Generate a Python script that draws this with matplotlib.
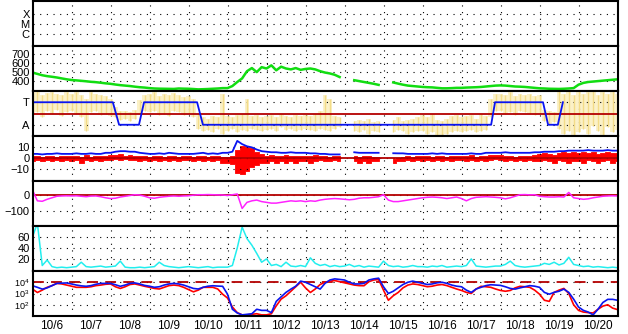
import matplotlib.pyplot as plt
import numpy as np

plt.rcParams['font.family'] = ['Liberation Sans', 'DejaVu Sans']
nan = np.nan

# time axis: days after 10/6 00:00, one sample every 3 hours
day_labels = ['10/6', '10/7', '10/8', '10/9', '10/10', '10/11', '10/12', '10/13',
              '10/14', '10/15', '10/16', '10/17', '10/18', '10/19', '10/20']
t = np.arange(121) * 0.125

# solar wind speed (km/s)
speed = [495, 480, 465, 455, 448, 440, 430, 420,
         412, 408, 403, 398, 392, 388, 382, 375,
         370, 362, 355, 350, 345, 338, 332, 328,
         322, 318, 316, 315, 314, 313, 318, 316,
         315, 312, 308, 310, 312, 315, 318, 322,
         322, 345, 390, 430, 510, 545, 500, 555,
         540, 575, 520, 560, 540, 530, 545, 525,
         535, 540, 530, 510, 495, 485, 470, 445,
         nan, nan, 410, 400, 390, 380, 370, 358,
         nan, nan, 385, 372, 360, 350, 345, 340,
         335, 332, 330, 325, 320, 320, 322, 325,
         325, 328, 330, 332, 335, 340, 345, 350,
         352, 350, 345, 340, 338, 335, 330, 325,
         320, 318, 315, 314, 313, 315, 318, 322,
         360, 380, 390, 395, 400, 405, 410, 415, 420]

# IMF sector (T = 270, A = 90 deg) and phi angle spread
sector_t = [0, 2.06, 2.22, 2.73, 2.86, 4.22, 4.37, 11.76, 11.86, 13.09, 13.22, 13.47, 13.60]
sector_v = [270, 270, 90, 90, 270, 270, 90, 90, 270, 270, 90, 90, 270]
phi_lo = [170, 190, 150, 200, 180, 210, 160, 190,
          200, 180, 150, 40, 190, 200, 170, 180,
          160, 150, 130, 140, 120, 140, 180, 200,
          190, 200, 170, 180, 160, 200, 190, 170,
          180, 150, 60, 40, 50, 30, 60, 20,
          40, 60, 30, 50, 40, 60, 50, 40,
          50, 60, 40, 70, 50, 60, 40, 50,
          60, 50, 40, 60, 50, 40, 60, 70,
          nan, nan, 40, 30, 50, 20, 40, 30,
          nan, nan, 30, 50, 40, 20, 30, 40,
          40, 20, 30, 10, 0, 20, 30, 40,
          30, 40, 50, 30, 40, 50, 150, 200,
          200, 180, 190, 170, 200, 190, 180, 170,
          180, 120, 100, 110, 60, 20, 40, 0,
          30, 60, 20, 80, 40, 10, 70, 30, 50]
phi_hi = [350, 360, 330, 345, 355, 340, 330, 350,
          340, 355, 330, 300, 350, 340, 330, 320,
          300, 230, 200, 200, 190, 210, 290, 330,
          340, 350, 320, 340, 330, 345, 330, 310,
          320, 300, 180, 150, 140, 160, 150, 340,
          160, 150, 170, 180, 300, 160, 170, 150,
          160, 170, 150, 180, 160, 150, 170, 160,
          170, 160, 180, 200, 330, 300, 160, 150,
          nan, nan, 120, 130, 120, 140, 110, 120,
          nan, nan, 130, 150, 120, 130, 140, 150,
          170, 150, 180, 130, 120, 140, 160, 170,
          150, 160, 170, 140, 180, 160, 300, 340,
          340, 330, 350, 320, 340, 330, 340, 320,
          330, 210, 200, 190, 360, 340, 360, 330,
          360, 340, 350, 360, 330, 350, 340, 360, 340]

# IMF Bt and Bz range (nT)
bt = [4, 4, 3.5, 4, 4, 4.5, 4, 4,
      4, 4.5, 4, 4, 4.5, 4, 4, 5,
      5, 6, 6.5, 6.5, 6, 6, 5, 4.5,
      4, 4, 4.5, 4, 5, 4.5, 4, 4,
      4, 4, 4.5, 5, 4, 4.5, 4, 5,
      5, 6, 16, 13, 11, 10, 8, 6.5,
      6, 5.5, 5.5, 5, 5, 5.5, 5, 5,
      5, 4.5, 4.5, 4, 4, 3.5, 3.5, 3.5,
      nan, nan, 5.5, 5, 5, 5, 5, 5,
      nan, nan, 4.6, 4.5, 4.5, 4, 4, 4,
      4, 4, 4.5, 4, 4.5, 4, 4, 4,
      4, 4, 4.5, 4, 4, 5, 5, 5,
      5, 5.5, 5, 5, 5, 5, 5, 5.5,
      5.5, 6, 6, 6, 6.5, 6.5, 7, 7,
      7, 7, 7.5, 7, 7, 7, 7.5, 7, 7]
bz_lo = [-3, -2, -3, -2, -3, -2, -3, -2,
         -3, -2, -4, -2, -3, -2, -3, -2,
         -2, -1, -2, -1, -2, -2, -3, -2,
         -3, -2, -3, -2, -3, -2, -3, -2,
         -2, -3, -2, -3, -2, -3, -2, -4,
         -4, -5, -14, -15, -12, -8, -6, -4,
         -4, -3, -4, -3, -4, -3, -4, -3,
         -3, -4, -3, -2, -3, -3, -2, -3,
         nan, nan, -3, -4, -3, -4, -3, -3,
         nan, nan, -4, -3, -3, -2, -3, -2,
         -3, -2, -3, -2, -3, -2, -3, -2,
         -2, -3, -2, -3, -2, -3, -2, -1,
         -2, -3, -2, -3, -2, -3, -2, -3,
         -3, -2, -3, -4, -2, -3, -4, -3,
         -3, -4, -2, -3, -4, -3, -2, -4, -3]
bz_hi = [2, 2, 1, 2, 2, 1, 2, 2,
         2, 2, 1, 3, 1, 2, 2, 2,
         3, 3, 4, 2, 3, 2, 2, 2,
         1, 2, 2, 1, 2, 2, 1, 2,
         2, 1, 2, 2, 1, 2, 2, 1,
         1, 2, 8, 11, 10, 9, 6, 4,
         2, 3, 2, 2, 3, 2, 2, 2,
         2, 2, 3, 2, 2, 1, 2, 2,
         nan, nan, 2, 1, 2, 2, 1, 1,
         nan, nan, -1, 0, 1, 2, 1, 2,
         2, 2, 1, 2, 2, 1, 2, 2,
         2, 2, 3, 1, 2, 2, 3, 3,
         3, 2, 2, 1, 2, 2, 2, 3,
         4, 5, 4, 3, 5, 6, 5, 6,
         5, 6, 5, 6, 4, 5, 6, 5, 5]

# geomagnetic field disturbance (nT)
hp = [35, -35, -38, -25, -15, -5, -3, -2,
      -3, -2, -5, -8, -4, -3, -8, -15,
      -20, -18, -10, -5, 0, 5, 3, -5,
      -15, -18, -12, -8, -5, -3, -5, -3,
      -2, 2, 5, 5, 6, 5, 4, 3,
      0, 5, 10, -85, -45, -35, -30, -40,
      -45, -50, -50, -45, -40, -35, -38, -35,
      -40, -35, -38, -30, -25, -22, -20, -22,
      -25, -28, -25, -18, -15, -15, -12, -8,
      5, -30, -40, -40, -35, -30, -25, -20,
      -15, -12, -10, -12, -15, -20, -15, -10,
      -20, -35, -20, -12, -10, -8, -10, -12,
      -15, -22, -15, -5, 5, 6, 4, 5,
      -5, -8, -10, -10, -8, -10, 20, -15,
      -20, -25, -22, -15, -10, -5, -3, -2, -3]

# proton density (p/cc)
dens = [60, 85, 8, 18, 6, 4, 5, 4,
        5, 6, 14, 6, 5, 6, 7, 5,
        6, 7, 16, 5, 4, 4, 5, 4,
        5, 6, 14, 8, 6, 5, 4, 5,
        6, 5, 4, 5, 6, 4, 5, 5,
        5, 8, 40, 78, 57, 45, 30, 14,
        20, 8, 10, 6, 14, 7, 6, 8,
        6, 22, 12, 8, 10, 6, 8, 6,
        7, 10, 6, 8, 5, 7, 6, 5,
        16, 8, 6, 7, 5, 6, 8, 6,
        6, 5, 7, 6, 8, 5, 6, 7,
        6, 8, 20, 7, 6, 5, 6, 7,
        7, 10, 16, 8, 6, 5, 6, 7,
        8, 12, 10, 14, 9, 12, 23, 10,
        8, 6, 7, 5, 6, 5, 4, 5, 4]

# electron flux, two satellites (log10)
flux_a = [3.69, 3.55, 3.39, 3.5, 3.7, 3.9, 3.92, 3.94,
          3.85, 3.75, 3.68, 3.64, 3.7, 3.82, 3.9, 3.9,
          3.9, 3.78, 3.64, 3.75, 3.9, 3.94, 3.85, 3.72,
          3.65, 3.55, 3.6, 3.75, 3.85, 3.9, 3.85, 3.75,
          3.6, 3.45, 3.4, 3.55, 3.65, 3.69, 3.66, 3.64,
          2.94, 1.6, 1.27, 1.1, 1.15, 1.2, 1.6, 1.5,
          1.5, 1.3, 2.3, 2.7, 3.1, 3.39, 3.65, 4.1,
          4.0, 3.8, 3.6, 3.39, 3.9, 4.2, 4.3, 4.25,
          4.2, 4.0, 3.85, 3.85, 3.9, 4.2, 4.3, 4.36,
          3.6, 3.0, 3.2, 3.5, 3.8, 4.0, 4.1, 4.0,
          3.9, 3.8, 3.85, 3.95, 4.0, 3.9, 3.75, 3.65,
          3.6, 3.3, 3.1, 3.4, 3.55, 3.7, 3.78, 3.75,
          3.72, 3.6, 3.45, 3.39, 3.5, 3.6, 3.7, 3.65,
          3.55, 3.1, 2.94, 3.1, 3.2, 3.39, 3.1, 2.5,
          1.8, 1.5, 1.35, 1.1, 1.6, 2.2, 2.48, 2.48, 2.4]
flux_b = [3.39, 3.09, 3.3, 3.55, 3.7, 3.9, 3.85, 3.75,
          3.65, 3.55, 3.55, 3.55, 3.6, 3.7, 3.75, 3.82,
          3.85, 3.6, 3.45, 3.6, 3.8, 3.85, 3.75, 3.64,
          3.55, 3.45, 3.4, 3.55, 3.7, 3.75, 3.7, 3.55,
          3.35, 3.15, 3.3, 3.55, 3.55, 3.55, 3.4, 2.94,
          2.6, 1.8, 1.3, 1.1, 1.1, 1.15, 1.2, 1.1,
          1.1, 1.2, 1.9, 2.5, 2.8, 3.2, 3.6, 4.0,
          3.5, 3.09, 3.4, 3.8, 4.0, 4.1, 4.15, 4.05,
          3.95, 3.85, 3.75, 3.7, 3.69, 4.05, 4.2, 4.24,
          3.3, 2.4, 2.8, 3.09, 3.5, 3.75, 3.85, 3.8,
          3.7, 3.6, 3.65, 3.75, 3.8, 3.7, 3.55, 3.4,
          3.27, 3.1, 3.0, 3.4, 3.64, 3.6, 3.55, 3.4,
          3.27, 3.2, 3.27, 3.5, 3.64, 3.6, 3.55, 3.3,
          2.94, 2.4, 2.3, 3.1, 3.3, 3.45, 3.0, 2.0,
          1.5, 1.35, 1.3, 1.27, 1.6, 1.88, 2.0, 1.7, 1.57]
flux_alert = 1e4

DKRED = '#b40000'
dots = (0, (1, 5))

fig = plt.figure(figsize=(6.28, 3.34), dpi=100)
left, width = 32.5 / 628, 585 / 628
ph = 45 / 334
top = 1 - 1 / 334
axes = [fig.add_axes((left, top - (i + 1) * ph, width, ph)) for i in range(7)]

for ax in axes:
    ax.set_xlim(0, 15)
    ax.set_xticks(range(1, 15))
    ax.tick_params(which='both', length=0, labelsize=8, pad=2)
    ax.tick_params(axis='x', labelbottom=False)
    ax.grid(True, color='black', lw=0.8, linestyle=dots)
    for s in ax.spines.values():
        s.set_linewidth(1.5)

# panel 1: flare class
ax = axes[0]
ax.set_ylim(-0.25, 4.25)
ax.set_yticks([1, 2, 3])
ax.set_yticklabels(['C', 'M', 'X'])

# panel 2: speed
ax = axes[1]
ax.plot(t, speed, color='#11dd11', lw=1.8)
ax.set_ylim(290, 790)
ax.set_yticks([400, 500, 600, 700])

# panel 3: sector
ax = axes[2]
ax.fill_between(t, phi_lo, phi_hi, color='#fbf1c8', step='mid', lw=0)
ax.vlines(t, phi_lo, phi_hi, colors='#f3dc88', lw=1.0)
ax.axhline(180, color=DKRED, lw=1.3)
ax.plot(sector_t, sector_v, color='#0a14f0', lw=1.3)
ax.set_ylim(0, 360)
ax.set_yticks([90, 270])
ax.set_yticklabels(['A', 'T'])

# panel 4: Bt / Bz
ax = axes[3]
ax.axhline(0, color=DKRED, lw=1.3)
ax.plot(t, bt, color='#0a14f0', lw=1.3)
ax.fill_between(t, bz_lo, bz_hi, color='#ff0000', step='mid', lw=0.6, edgecolor='#ff0000')
ax.set_ylim(-21, 20.5)
ax.set_yticks([-10, 0, 10])

# panel 5: geomagnetic
ax = axes[4]
ax.axhline(0, color=DKRED, lw=1.3)
ax.plot(t, hp, color='#ff22ff', lw=1.1)
ax.set_ylim(-200, 95)
ax.set_yticks([-100, 0])

# panel 6: density
ax = axes[5]
ax.plot(t, dens, color='#22eeee', lw=1.1)
ax.set_ylim(-2, 80)
ax.set_yticks([20, 40, 60])

# panel 7: electron flux
ax = axes[6]
ax.axhline(flux_alert, color=DKRED, lw=1.3, dashes=(6, 4))
ax.plot(t, 10 ** np.array(flux_b), color='#ff0000', lw=1.2)
ax.plot(t, 10 ** np.array(flux_a), color='#0a14f0', lw=1.2)
ax.set_yscale('log')
ax.set_ylim(10, 1e5)
ax.set_yticks([1e2, 1e3, 1e4])
ax.yaxis.set_minor_locator(plt.NullLocator())
ax.tick_params(axis='y', labelsize=6.5)
ax.set_xticks(np.arange(15) + 0.5, minor=True)
ax.set_xticklabels(day_labels, minor=True)
ax.tick_params(axis='x', which='minor', labelbottom=True, labelsize=8.5, pad=3)

fig.savefig('out.png', dpi=100, facecolor='white')
